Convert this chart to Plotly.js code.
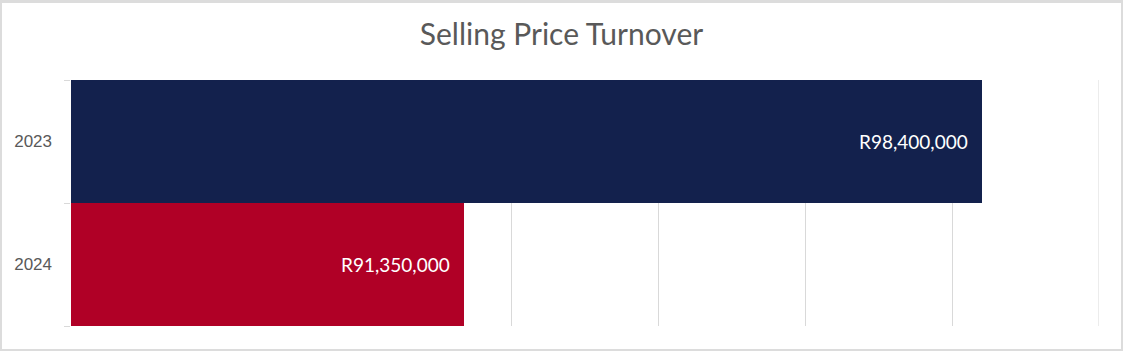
<!DOCTYPE html>
<html>
<head>
<meta charset="utf-8">
<script src="https://cdn.plot.ly/plotly-3.0.1.min.js"></script>
<style>
html,body{margin:0;padding:0;background:#fff;}
#wrap{position:absolute;left:0;top:0;width:1123px;height:351px;box-sizing:border-box;border:2px solid #dcdcdc;border-top-width:3px;background:#fff;}
#chart{width:1119px;height:346px;}
</style>
</head>
<body>
<div id="wrap"><div id="chart"></div></div>
<script>
const years = ['2023', '2024'];
const turnover = [98400000, 91350000];
const barColors = ['#13214d', '#b00026'];
const xRange = [86000000, 100000000];
const xStep = 2000000;
const labels = turnover.map(v => 'R' + v.toLocaleString('en-US'));
const yOrder = years.slice().reverse();

const trace = {
  type: 'bar',
  orientation: 'h',
  y: years,
  x: turnover,
  marker: {color: barColors, line: {width: 0}},
  hoverinfo: 'skip'
};

const annotations = years.map((y, i) => ({
  x: turnover[i], y: yOrder.indexOf(y), xref: 'x', yref: 'y',
  text: labels[i], showarrow: false,
  xanchor: 'right', yanchor: 'middle', xshift: -12,
  font: {family: 'Lato, "Open Sans", sans-serif', size: 19, color: '#ffffff'}
}));

const layout = {
  width: 1119, height: 346,
  margin: {l: 69, r: 22, t: 77, b: 23, pad: 0},
  paper_bgcolor: '#ffffff', plot_bgcolor: '#ffffff',
  bargap: 0,
  showlegend: false,
  title: {
    text: 'Selling Price Turnover',
    x: 0.5, xanchor: 'center', xref: 'container',
    y: 0.91, yanchor: 'middle', yref: 'container',
    font: {family: 'Lato, "Open Sans", sans-serif', size: 30, color: '#595959'}
  },
  xaxis: {
    range: xRange,
    dtick: xStep, tick0: xRange[0],
    showgrid: true, gridcolor: '#d9d9d9', gridwidth: 1,
    zeroline: false, showline: false,
    showticklabels: false, ticks: ''
  },
  yaxis: {
    type: 'category',
    categoryorder: 'array', categoryarray: yOrder,
    range: [-0.5, 1.5],
    showgrid: false, zeroline: false, showline: false,
    tickson: 'boundaries', ticks: 'outside', ticklen: 6, tickcolor: '#d9d9d9', tickwidth: 1,
    ticklabelstandoff: 18,
    tickfont: {family: '"Liberation Sans", Arial, sans-serif', size: 17, color: '#595959'}
  },
  shapes: [{
    type: 'line', xref: 'x', yref: 'paper',
    x0: xRange[1], x1: xRange[1], y0: 0, y1: 1,
    line: {color: '#d9d9d9', width: 1}, layer: 'below'
  }],
  annotations: annotations
};

Plotly.newPlot('chart', [trace], layout, {displayModeBar: false, staticPlot: true});
</script>
</body>
</html>
